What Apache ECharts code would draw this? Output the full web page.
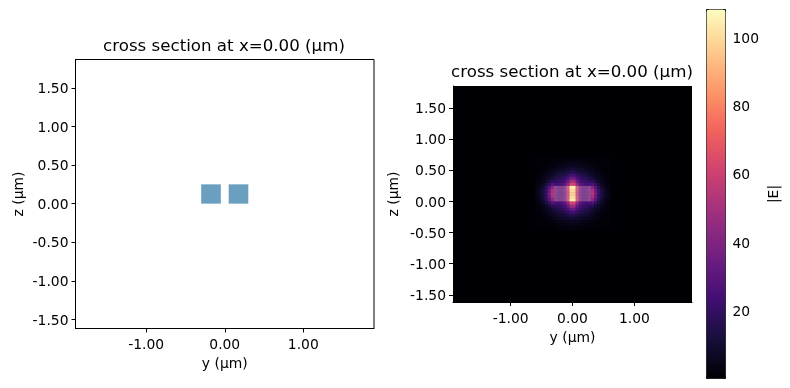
<!DOCTYPE html>
<html><head><meta charset="utf-8">
<style>html,body{margin:0;padding:0;background:#fff}#c{width:790px;height:388px}</style>
<script src="https://cdn.jsdelivr.net/npm/echarts@6/dist/echarts.min.js"></script></head>
<body><div id="c"></div>
<script>
const titleText = 'cross section at x=0.00 (µm)';
const xTicks = [-1, 0, 1];
const yTicks = [-1.5, -1, -0.5, 0, 0.5, 1, 1.5];
const cbTicks = [20, 40, 60, 80, 100];
// structures: [y0, y1, z0, z1]
const structures = [[-0.3, -0.05, 0, 0.25], [0.05, 0.3, 0, 0.25]];
// |E| cells, 0.05 µm square; columns y=-0.575..0.575, rows z=0.675..-0.425
const yCells = [-0.575,-0.525,-0.475,-0.425,-0.375,-0.325,-0.275,-0.225,-0.175,-0.125,-0.075,-0.025,0.025,0.075,0.125,0.175,0.225,0.275,0.325,0.375,0.425,0.475,0.525,0.575];
const zCells = [0.675,0.625,0.575,0.525,0.475,0.425,0.375,0.325,0.275,0.225,0.175,0.125,0.075,0.025,-0.025,-0.075,-0.125,-0.175,-0.225,-0.275,-0.325,-0.375,-0.425];
const fieldE = [
[1,1,1,1,1,1,1,2,2,2,2,3,3,2,2,2,2,1,1,1,1,1,1,1],
[1,1,1,1,1,2,2,2,3,3,4,4,4,4,3,3,2,2,2,1,1,1,1,1],
[1,1,1,1,2,2,3,4,4,5,6,6,6,6,5,4,4,3,2,2,1,1,1,1],
[1,1,1,2,3,4,5,6,7,8,9,10,10,9,8,7,6,5,4,3,2,1,1,1],
[1,1,2,3,4,6,7,9,10,11,13,15,15,13,11,10,9,7,6,4,3,2,1,1],
[1,2,3,4,6,8,10,12,14,16,19,23,23,19,16,14,12,10,8,6,4,3,2,1],
[2,2,4,6,8,11,14,16,18,21,26,33,33,26,21,18,16,14,11,8,6,4,2,2],
[2,3,5,8,12,17,18,20,22,25,33,48,48,33,25,22,20,18,17,12,8,5,3,2],
[3,4,7,12,19,27,24,24,26,31,42,62,62,42,31,26,24,24,27,19,12,7,4,3],
[3,6,10,17,30,42,34,30,30,36,62,104,104,62,36,30,30,34,42,30,17,10,6,3],
[4,7,12,20,34,52,35,30,30,36,60,100,100,60,36,30,30,35,52,34,20,12,7,4],
[4,7,13,21,36,54,35,30,29,35,58,97,97,58,35,29,30,35,54,36,21,13,7,4],
[4,7,12,20,34,52,35,30,30,36,60,100,100,60,36,30,30,35,52,34,20,12,7,4],
[3,6,10,17,30,42,34,30,30,36,62,104,104,62,36,30,30,34,42,30,17,10,6,3],
[3,4,7,12,19,27,24,24,26,31,42,62,62,42,31,26,24,24,27,19,12,7,4,3],
[2,3,5,8,12,17,18,20,22,25,33,48,48,33,25,22,20,18,17,12,8,5,3,2],
[2,2,4,6,8,11,14,16,18,21,26,33,33,26,21,18,16,14,11,8,6,4,2,2],
[1,2,3,4,6,8,10,12,14,16,19,23,23,19,16,14,12,10,8,6,4,3,2,1],
[1,1,2,3,4,6,7,9,10,11,13,15,15,13,11,10,9,7,6,4,3,2,1,1],
[1,1,1,2,3,4,5,6,7,8,9,10,10,9,8,7,6,5,4,3,2,1,1,1],
[1,1,1,1,2,2,3,4,4,5,6,6,6,6,5,4,4,3,2,2,1,1,1,1],
[1,1,1,1,1,2,2,2,3,3,4,4,4,4,3,3,2,2,2,1,1,1,1,1],
[1,1,1,1,1,1,1,2,2,2,2,3,3,2,2,2,2,1,1,1,1,1,1,1]
];
const magma = ['#000004','#180f3d','#440f76','#721f81','#9e2f7f','#cd4071','#f1605d','#fd9668','#feca8d','#fcfdbf'];

const FONT = 'DejaVu Sans', FS = 13.89, CELL = 0.05;
const cells = [];
zCells.forEach((z, r) => yCells.forEach((y, c) => cells.push([y, z, fieldE[r][c]])));
const fmt = v => Number(v).toFixed(2);
const lbl = { fontFamily: FONT, fontSize: FS, color: '#000', formatter: fmt };
const richDown = { a: { fontFamily: FONT, fontSize: FS, color: '#000', padding: [3, 0, 0, 0] } };
function xAxis(gridIndex, min, max, gap, margin) {
  return { type: 'value', gridIndex, min, max, position: 'bottom', splitLine: { show: false },
    name: 'y (µm)', nameLocation: 'middle', nameGap: gap,
    nameTextStyle: { fontFamily: FONT, fontSize: FS, color: '#000' },
    axisLine: { show: true, onZero: false, lineStyle: { color: '#000', width: 1 } },
    axisTick: { show: true, length: 4, lineStyle: { color: '#000' }, customValues: xTicks },
    axisLabel: { ...lbl, margin, customValues: xTicks, showMinLabel: true, showMaxLabel: true } };
}
function yAxis(gridIndex, min, max, gap) {
  return { type: 'value', gridIndex, min, max, position: 'left', splitLine: { show: false },
    name: 'z (µm)', nameLocation: 'middle', nameGap: gap, nameRotate: 90,
    nameTextStyle: { fontFamily: FONT, fontSize: FS, color: '#000' },
    axisLine: { show: true, onZero: false, lineStyle: { color: '#000', width: 1 } },
    axisTick: { show: true, length: 4, lineStyle: { color: '#000' }, customValues: yTicks },
    axisLabel: { ...lbl, margin: 7, customValues: yTicks, rich: richDown, formatter: v => '{a|' + fmt(v) + '}' } };
}
function rectItem(fill) {
  return (p, api) => {
    const a = api.coord([api.value(0), api.value(3)]);
    const b = api.coord([api.value(1), api.value(2)]);
    return { type: 'rect', shape: { x: a[0], y: a[1], width: b[0] - a[0], height: b[1] - a[1] },
      style: { fill } };
  };
}
const chart = echarts.init(document.getElementById('c'), null, { renderer: 'canvas' });
chart.setOption({
  animation: false,
  backgroundColor: '#fff',
  title: [
    { text: titleText, left: 219, top: 33, textAlign: 'center', textStyle: { fontFamily: FONT, fontSize: 16.67, fontWeight: 'normal', color: '#000' } },
    { text: titleText, left: 567, top: 59.5, textAlign: 'center', textStyle: { fontFamily: FONT, fontSize: 16.67, fontWeight: 'normal', color: '#000' } }
  ],
  grid: [
    { left: 75.5, top: 59.5, width: 298.5, height: 269, show: true, borderColor: '#000', borderWidth: 1, backgroundColor: '#fff' },
    { left: 453, top: 86, width: 239, height: 216, show: true, borderColor: '#000', borderWidth: 0, backgroundColor: '#000004' },
    { left: 706.5, top: 9.5, width: 19, height: 369, show: false }
  ],
  xAxis: [ xAxis(0, -1.9, 1.9, 29, 10), xAxis(1, -1.93, 1.93, 29, 10),
    { type: 'value', gridIndex: 2, min: 0, max: 1, show: false } ],
  yAxis: [ yAxis(0, -1.616, 1.866, 49), yAxis(1, -1.616, 1.855, 52),
    { type: 'value', gridIndex: 2, min: 0.2, max: 108.3, position: 'right', splitLine: { show: false },
      name: '|E|', nameLocation: 'middle', nameGap: 42, nameRotate: 90,
      nameTextStyle: { fontFamily: FONT, fontSize: FS, color: '#000' },
      axisLine: { show: false },
      axisTick: { show: true, length: 4, lineStyle: { color: '#000' }, customValues: cbTicks },
      axisLabel: { fontFamily: FONT, fontSize: FS, color: '#000', margin: 7, customValues: cbTicks, rich: richDown, formatter: v => '{a|' + v + '}' } } ],
  visualMap: [{
    type: 'continuous', seriesIndex: 1, dimension: 2, min: 0.2, max: 108.3,
    inRange: { color: magma }, calculable: false, hoverLink: false, realtime: false,
    orient: 'vertical', left: 706, top: 9, itemWidth: 19, itemHeight: 369, padding: 0,
    text: null, showLabel: false, borderColor: '#000', borderWidth: 1
  }],
  series: [
    { type: 'custom', xAxisIndex: 0, yAxisIndex: 0, silent: true, renderItem: rectItem('#6a9fbf'),
      encode: { x: [0, 1], y: [2, 3] }, data: structures },
    { type: 'custom', xAxisIndex: 1, yAxisIndex: 1, silent: true, clip: true,
      encode: { x: 0, y: 1 }, data: cells,
      renderItem: (p, api) => {
        const y = api.value(0), z = api.value(1);
        const a = api.coord([y - CELL / 2, z + CELL / 2]);
        const b = api.coord([y + CELL / 2, z - CELL / 2]);
        return { type: 'rect', shape: { x: a[0], y: a[1], width: b[0] - a[0] + 0.5, height: b[1] - a[1] + 0.5 },
          style: { fill: api.visual('color') } };
      } },
    { type: 'custom', xAxisIndex: 1, yAxisIndex: 1, silent: true, z: 5,
      renderItem: rectItem('rgba(215,165,190,0.32)'),
      encode: { x: [0, 1], y: [2, 3] }, data: structures }
  ]
});
</script></body></html>
